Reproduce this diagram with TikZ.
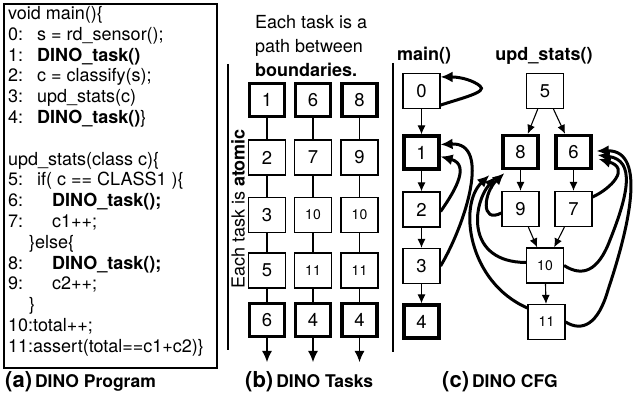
\documentclass[tikz,border=0pt]{standalone}
\usepackage{fontspec}
\setmainfont{TeX Gyre Heros}
\usetikzlibrary{arrows.meta}
\begin{document}
\begin{tikzpicture}[x=1pt,y=-1pt,
  code/.style={anchor=base west, inner sep=0pt, font=\fontsize{18}{20}\selectfont},
  captxt/.style={anchor=base west, inner sep=0pt, font=\bfseries\fontsize{17.5}{20}\selectfont},
  bx/.style={draw, line width=1.2pt, minimum width=37pt, minimum height=35pt, inner sep=0pt, font=\fontsize{18.5}{20}\selectfont},
  tb/.style={bx, line width=3.3pt, minimum width=34.9pt, minimum height=32.9pt},
  sm/.style={font=\fontsize{14}{16}\selectfont},
  link/.style={line width=1.1pt},
  tarr/.style={line width=1.1pt, -{Latex[length=9pt,width=8pt]}},
  karr/.style={line width=3pt, -{Latex[length=12pt,width=11pt]}},
]
\useasboundingbox (0,0) rectangle (633,393);

% ---------- (a) program ----------
\draw[line width=1.2pt] (4,4) rectangle (217,368);
\foreach \i/\n/\t/\xx in {
  1/0:/{s = rd\_sensor();}/37,
  2/1:/{\textbf{DINO\_task()}}/37,
  3/2:/{c = classify(s);}/37,
  4/3:/{upd\_stats(c)}/37,
  5/4:/{\textbf{DINO\_task()}\}}/37,
  8/5:/{if( c == CLASS1 )\{}/37,
  9/6:/{\textbf{DINO\_task();}}/52,
  10/7:/{c1++;}/52,
  12/8:/{\textbf{DINO\_task();}}/52,
  13/9:/{c2++;}/52}{
  \node[code] (n\i) at (8,19.5+20.8*\i) {\n};
  \node[code] (t\i) at (\xx,19.5+20.8*\i) {\t};
}
\node[code] (l0) at (8,19.5) {void main()\{};
\node[code] (l7) at (8,19.5+20.8*7) {upd\_stats(class c)\{};
\node[code] (l11) at (29,19.5+20.8*11) {\}else\{};
\node[code] (l14) at (29,19.5+20.8*14) {\}};
\node[code] (l15) at (8,19.5+20.8*15) {10:total++;};
\node[code] (l16) at (8,19.5+20.8*16) {11:assert(total==c1+c2)\}};
\node[captxt] (capa) at (5,388) {{\fontsize{22}{22}\selectfont(a)}\hspace{3pt}DINO Program};

% ---------- (b) tasks ----------
\node[code] (h1) at (255,29) {Each task is a};
\node[code] (h2) at (255,53) {path between};
\node[code] (h3) at (255,77) {\textbf{boundaries.}};
\draw[line width=1.2pt] (228,64) -- (228,350);
\node[rotate=90, inner sep=0pt, font=\fontsize{18}{20}\selectfont] (atom) at (238,209) {Each task is \textbf{atomic}};

\node[tb] (b11) at (267,100) {1};
\node[bx] (b12) at (267,157.5) {2};
\node[bx] (b13) at (267,215) {3};
\node[bx] (b14) at (267,270.5) {5};
\node[tb] (b15) at (267,320) {6};
\node[tb] (b21) at (313,100) {6};
\node[bx] (b22) at (313,157.5) {7};
\node[bx,sm] (b23) at (313,215) {10};
\node[bx,sm] (b24) at (313,270.5) {11};
\node[tb] (b25) at (313,320) {4};
\node[tb] (b31) at (359.5,100) {8};
\node[bx] (b32) at (359.5,157.5) {9};
\node[bx,sm] (b33) at (359.5,215) {10};
\node[bx,sm] (b34) at (359.5,270.5) {11};
\node[tb] (b35) at (359.5,320) {4};
\foreach \c/\x in {1/267,2/313,3/359.5}{
  \draw[link] (b\c1) -- (b\c2);
  \draw[link] (b\c2) -- (b\c3);
  \draw[link] (b\c3) -- (b\c4);
  \draw[link] (b\c4) -- (b\c5);
  \coordinate (e\c) at (\x,362);
  \draw[line width=1.1pt, -{Latex[length=11pt,width=10pt]}] (b\c5) -- (e\c);
}
\node[captxt] (capb) at (245,388) {{\fontsize{22}{22}\selectfont(b)}\hspace{3pt}DINO Tasks};

% ---------- (c) CFG ----------
\draw[line width=1.2pt] (393,63) -- (393,352);
\node[anchor=base, inner sep=0pt, font=\bfseries\fontsize{18}{20}\selectfont] (lm) at (424,61) {main()};
\node[anchor=base, inner sep=0pt, font=\bfseries\fontsize{18}{20}\selectfont] (lu) at (544,61) {upd\_stats()};

\node[bx] (c0) at (421.5,91) {0};
\node[tb] (c1) at (421.5,152.5) {1};
\node[bx] (c2) at (421.5,209.5) {2};
\node[bx] (c3) at (421.5,266) {3};
\node[tb] (c4) at (421.5,321.5) {4};
\node[bx] (c5) at (545,91) {5};
\node[tb] (c8) at (520.5,152) {8};
\node[tb] (c6) at (573.5,152) {6};
\node[bx] (c9) at (520.5,209) {9};
\node[bx] (c7) at (573.5,209) {7};
\node[bx,sm] (c10) at (545,265.5) {10};
\node[bx,sm] (c11) at (546.5,322) {11};

\draw[tarr] (c0) -- (c1);
\draw[tarr] (c1) -- (c2);
\draw[tarr] (c2) -- (c3);
\draw[tarr] (c3) -- (c4);
\draw[tarr] (c5) -- (c8);
\draw[tarr] (c5) -- (c6);
\draw[tarr] (c8) -- (c9);
\draw[tarr] (c6) -- (c7);
\draw[tarr] (c9) -- (c10);
\draw[tarr] (c7) -- (c10);
\draw[tarr] (c10) -- (c11);

% back edges (thick)
\draw[karr] ([yshift=4pt]c0.south east) .. controls (462,98) and (488,92) .. (480,86)
  .. controls (474,81) and (462,77) .. ([yshift=-4pt]c0.north east);
\draw[karr] ([yshift=-2pt]c2.east) .. controls (452,195) and (472,165) .. ([yshift=-4pt]c1.east);
\draw[karr] (c3.east) .. controls (465,225) and (492,142) .. ([yshift=8pt]c1.east);

\draw[karr] ([yshift=-4pt]c9.west) .. controls (480,224) and (484,192) .. ([xshift=3pt,yshift=-3pt]c8.south west);
\draw[karr] ([yshift=3pt]c10.west) .. controls (466,262) and (472,205) .. ([xshift=-5pt,yshift=-6pt]c8.south west);
\draw[karr] ([yshift=14pt]c11.west) .. controls (468,282) and (458,205) .. ([xshift=-12pt,yshift=-5pt]c8.south west);

\draw[karr] ([yshift=12pt]c7.east) .. controls (612,188) and (630,168) .. ([xshift=6pt,yshift=-7pt]c6.east);
\draw[karr] (c10.east) .. controls (582,277) and (598,272) .. (610,240)
  .. controls (628,195) and (636,160) .. ([xshift=5pt,yshift=-3pt]c6.east);
\draw[karr] (c11.east) .. controls (582,332) and (598,325) .. (608,290)
  .. controls (628,230) and (648,150) .. ([xshift=4pt,yshift=1pt]c6.east);

\node[captxt] (capc) at (442,388) {{\fontsize{22}{22}\selectfont(c)}\hspace{3pt}DINO CFG};
\end{tikzpicture}
\end{document}
